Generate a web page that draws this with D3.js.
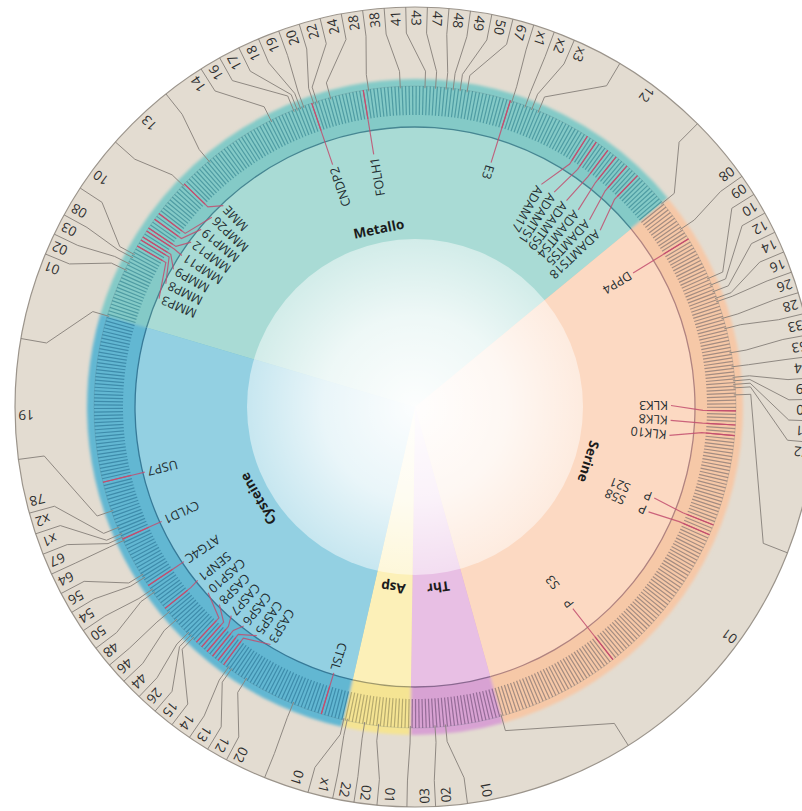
<!DOCTYPE html>
<html>
<head>
<meta charset="utf-8">
<script src="https://cdn.jsdelivr.net/npm/d3@7"></script>
<style>
  html, body { margin: 0; background: #ffffff; }
  svg { display: block; }
</style>
</head>
<body>
<svg id="wheel" width="802" height="811"></svg>
<script>
// ---- Data: protease clans, their families (in wheel order) and member counts ----
const clanNames = ["Metallo", "Serine", "Thr", "Asp", "Cysteine"];

const metalloFamilies = ["01","02","03","08","10","13","14","16","17","18","19","20","22","24","28","38","41","43","47","48","49","50","67","x1","x2","x3","12"];
const metalloCounts   = [14, 2, 2, 1, 24, 10, 21, 7, 1, 1, 1, 3, 1, 4, 11, 9, 7, 3, 3, 2, 2, 2, 13, 4, 2, 2, 44];

const serineFamilies = ["08","09","10","12","14","16","26","28","33","53","54","59","60","71","72","01"];
const serineCounts   = [9, 16, 2, 2, 2, 1, 5, 3, 7, 4, 3, 1, 1, 1, 2, 121];

const thrFamilies = ["01","02","03"];
const thrCounts   = [16, 3, 7];

const aspFamilies = ["01","02","22","x1"];
const aspCounts   = [9, 4, 5, 1];

const cysteineFamilies = ["01","02","12","13","14","15","26","44","46","48","50","54","56","64","67","x1","x2","78","19"];
const cysteineCounts   = [15, 15, 5, 1, 13, 1, 1, 5, 3, 7, 1, 4, 1, 11, 1, 1, 2, 5, 56];

// Named proteases: clan, family and position of the member inside its family
const highlightNames    = ["CNDP2","FOLH1","E3","ADAM17","ADAMTS1","ADAMTS9","ADAMTS4","ADAMTS5","ADAMTS18",
                           "MMP3","MMP8","MMP9","MMP11","MMP12","MMP19","MMP26","MME",
                           "DPP4","KLK3","KLK8","KLK10","P\u2003 S21","P\u2003 S58","P\u2003 S3",
                           "CTSL","CASP3","CASP5","CASP6","CASP7","CASP8","CASP10","SENP1","ATG4C","CYLD1","USP7"];
const highlightClans    = ["Metallo","Metallo","Metallo","Metallo","Metallo","Metallo","Metallo","Metallo","Metallo",
                           "Metallo","Metallo","Metallo","Metallo","Metallo","Metallo","Metallo","Metallo",
                           "Serine","Serine","Serine","Serine","Serine","Serine","Serine",
                           "Cysteine","Cysteine","Cysteine","Cysteine","Cysteine","Cysteine","Cysteine","Cysteine","Cysteine","Cysteine","Cysteine"];
const highlightFamilies = ["20","28","67","12","12","12","12","12","12",
                           "10","10","10","10","10","10","10","13",
                           "09","01","01","01","01","01","01",
                           "01","14","14","14","14","14","14","48","54","67","19"];
const highlightMember   = [2, 9, 12, 15, 18, 22, 25, 29, 33,
                           2, 4, 5, 7, 8, 11, 13, 0,
                           3, 4, 8, 11, 37, 40, 85,
                           6, 1, 3, 5, 7, 9, 11, 1, 1, 0, 8];

// ---- Appearance ----
const clanStyle = {
  Metallo:  { band: "#84cac7", inner: "#a9dbd5", tick: "#4f9ca3", ring: "#468692" },
  Serine:   { band: "#f6c8a7", inner: "#fcd9c2", tick: "#a48c81", ring: "#b08380" },
  Thr:      { band: "#d8a2d3", inner: "#e8bfe4", tick: "#956c98", ring: "#8a6890" },
  Asp:      { band: "#f5e493", inner: "#fcf0b8", tick: "#b6aa6e", ring: "#a0996c" },
  Cysteine: { band: "#62b7d2", inner: "#93d0e2", tick: "#3e8cab", ring: "#377a98" }
};
const HIGHLIGHT = "#c24e6e";
const cx = 415, cy = 407;
const R = { outer: 400, band: 328, hatchOut: 321, hatchIn: 292, ring: 280, disk: 168,
            famLabel: 389, sepIn: 374, elbow: 336, clanLabel: 182 };
const START_ANGLE = -73.5;   // degrees, clockwise from 12 o'clock
const FONT = "'Open Sans', 'Noto Sans', sans-serif";

// ---- Build family table ----
const clanTable = [
  { name: "Metallo",  fams: metalloFamilies,  counts: metalloCounts },
  { name: "Serine",   fams: serineFamilies,   counts: serineCounts },
  { name: "Thr",      fams: thrFamilies,      counts: thrCounts },
  { name: "Asp",      fams: aspFamilies,      counts: aspCounts },
  { name: "Cysteine", fams: cysteineFamilies, counts: cysteineCounts }
];
let cum = 0;
const families = [];
clanTable.forEach(c => {
  c.start = cum;
  c.fams.forEach((code, i) => {
    families.push({ clan: c.name, code, start: cum, n: c.counts[i] });
    cum += c.counts[i];
  });
  c.end = cum;
});
const total = cum;

// member index -> angle (degrees)
const angle = d3.scaleLinear().domain([0, total]).range([START_ANGLE, START_ANGLE + 360]);
const rad = d => d * Math.PI / 180;
const pt = (a, r) => [cx + r * Math.sin(rad(a)), cy - r * Math.cos(rad(a))];
const norm = a => ((a % 360) + 360) % 360;

function clanOf(i) { return clanTable.find(c => i >= c.start && i < c.end).name; }

// push labels apart so neighbours keep a minimum angular gap
function spread(values, gap) {
  const v = values.slice();
  for (let k = 0; k < 2000; k++) {
    let moved = false;
    for (let i = 0; i < v.length - 1; i++) {
      const d = v[i + 1] - v[i];
      if (d < gap - 1e-6) { const s = (gap - d) / 2; v[i] -= s; v[i + 1] += s; moved = true; }
    }
    if (!moved) break;
  }
  return v;
}

// radial text: upside-down reading, inward on the right half, outward on the left half
function radialRotation(a) { a = norm(a); return a < 180 ? a + 90 : a - 90; }

const svg = d3.select("#wheel");
const defs = svg.append("defs");
defs.append("filter").attr("id", "soft").attr("x", "-10%").attr("y", "-10%").attr("width", "120%").attr("height", "120%")
  .append("feGaussianBlur").attr("stdDeviation", 1.4);
const grad = defs.append("radialGradient").attr("id", "disk");
grad.append("stop").attr("offset", "0%").attr("stop-color", "#ffffff").attr("stop-opacity", 0.97);
grad.append("stop").attr("offset", "55%").attr("stop-color", "#ffffff").attr("stop-opacity", 0.8);
grad.append("stop").attr("offset", "100%").attr("stop-color", "#ffffff").attr("stop-opacity", 0.48);

const root = svg.append("g");
const arc = d3.arc();

// outer beige ring
root.append("circle").attr("cx", cx).attr("cy", cy).attr("r", R.outer)
  .attr("fill", "#e3dcd1").attr("stroke", "#9b948b").attr("stroke-width", 1.2);

// clan sectors: saturated band, lighter interior
const sectors = root.append("g").attr("transform", `translate(${cx},${cy})`);
sectors.append("g").attr("filter", "url(#soft)").selectAll("path").data(clanTable).join("path")
  .attr("d", c => arc({ innerRadius: 0, outerRadius: R.band, startAngle: rad(angle(c.start)), endAngle: rad(angle(c.end)) }))
  .attr("fill", c => clanStyle[c.name].band);
sectors.append("g").selectAll("path").data(clanTable).join("path")
  .attr("d", c => arc({ innerRadius: 0, outerRadius: R.ring, startAngle: rad(angle(c.start)), endAngle: rad(angle(c.end)) }))
  .attr("fill", c => clanStyle[c.name].inner);

// pale centre disk
root.append("circle").attr("cx", cx).attr("cy", cy).attr("r", R.disk).attr("fill", "url(#disk)");

// thin ring line inside the band
sectors.append("g").selectAll("path").data(clanTable).join("path")
  .attr("d", c => arc({ innerRadius: R.ring - 0.65, outerRadius: R.ring + 0.65, startAngle: rad(angle(c.start)), endAngle: rad(angle(c.end)) }))
  .attr("fill", c => clanStyle[c.name].ring);

// one tick per protease
const ticks = d3.range(total).map(i => ({ i, a: angle(i + 0.5), clan: clanOf(i) }));
const highlights = highlightNames.map((name, k) => {
  const fam = families.find(f => f.clan === highlightClans[k] && f.code === highlightFamilies[k]);
  const i = fam.start + Math.min(highlightMember[k], fam.n - 1);
  return { name, i, ta: angle(i + 0.5) };
});
const highlighted = new Set(highlights.map(h => h.i));

root.append("g").selectAll("line").data(ticks).join("line")
  .attr("x1", d => pt(d.a, R.hatchIn)[0]).attr("y1", d => pt(d.a, R.hatchIn)[1])
  .attr("x2", d => pt(d.a, R.hatchOut)[0]).attr("y2", d => pt(d.a, R.hatchOut)[1])
  .attr("stroke", d => highlighted.has(d.i) ? HIGHLIGHT : clanStyle[d.clan].tick)
  .attr("stroke-width", 1.2);
root.append("circle").attr("cx", cx).attr("cy", cy).attr("r", R.hatchOut)
  .attr("fill", "none").attr("stroke", "#55707a").attr("stroke-opacity", 0.25).attr("stroke-width", 0.8);

// family labels around the rim
const famMid = families.map(f => angle(f.start + f.n / 2));
const famLabelAngle = spread(famMid, 3.1);
families.forEach((f, k) => { f.la = famLabelAngle[k]; });

// connectors: from each family boundary out to the separator between neighbouring labels
const connectors = families.map((f, k) => {
  const prev = k === 0 ? families[families.length - 1].la - 360 : families[k - 1].la;
  const sep = (prev + f.la) / 2;
  const b = angle(f.start);
  return [pt(b, R.hatchOut - 2), pt(b, R.elbow), pt(sep, R.sepIn), pt(sep, R.outer)];
});
const line = d3.line();
root.append("g").selectAll("path").data(connectors).join("path")
  .attr("d", line).attr("fill", "none").attr("stroke", "#8a847d").attr("stroke-width", 0.95);

root.append("g").selectAll("text").data(families).join("text")
  .attr("transform", f => { const p = pt(f.la, R.famLabel); return `translate(${p[0]},${p[1]}) rotate(${radialRotation(f.la)})`; })
  .attr("text-anchor", "middle").attr("dominant-baseline", "central")
  .attr("font-family", FONT).attr("font-size", 13.5).attr("fill", "#2e2e2e")
  .text(f => f.code);

// named proteases: leader line from the tick inward to the label
const order = highlights.map((h, k) => k).sort((p, q) => highlights[p].ta - highlights[q].ta);
const spreadAngles = spread(order.map(k => highlights[k].ta), 3.35);
order.forEach((k, j) => { highlights[k].la = spreadAngles[j]; });
highlights.forEach(h => {
  const a = norm(h.la);
  h.right = a < 180;
  h.lr = (a > 185 && a < 330) ? 275 : 253;
});

root.append("g").selectAll("path").data(highlights).join("path")
  .attr("d", h => line([pt(h.la, h.lr + 3), pt(h.ta, R.hatchIn - 4), pt(h.ta, R.hatchOut)]))
  .attr("fill", "none").attr("stroke", HIGHLIGHT).attr("stroke-opacity", 0.85).attr("stroke-width", 1.15);

root.append("g").selectAll("text").data(highlights).join("text")
  .attr("transform", h => { const p = pt(h.la, h.lr); return `translate(${p[0]},${p[1]}) rotate(${radialRotation(h.la)})`; })
  .attr("text-anchor", h => h.right ? "start" : "end").attr("dominant-baseline", "central")
  .attr("font-family", FONT).attr("font-size", 12.5).attr("fill", "#1f2d30")
  .text(h => h.name);

// clan names
root.append("g").selectAll("text").data(clanTable).join("text")
  .attr("transform", c => {
    const m = angle((c.start + c.end) / 2);
    const p = pt(m, R.clanLabel);
    return `translate(${p[0]},${p[1]}) rotate(${m})`;
  })
  .attr("text-anchor", "middle").attr("dominant-baseline", "central")
  .attr("font-family", FONT).attr("font-weight", 700).attr("font-size", 13.5).attr("fill", "#1b1b1b")
  .text(c => c.name);
</script>
</body>
</html>
